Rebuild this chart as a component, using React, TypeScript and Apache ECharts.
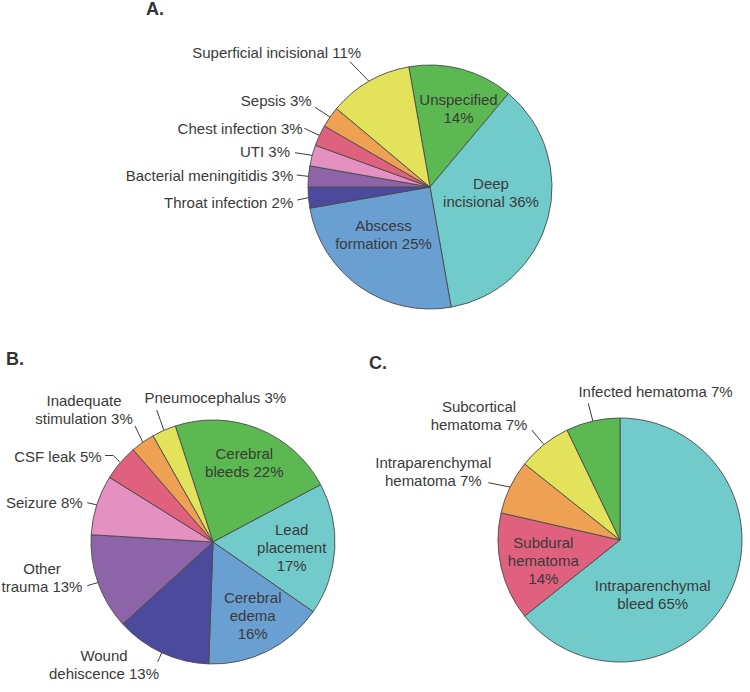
import React, { useEffect, useRef } from 'react';
import * as echarts from 'echarts';

// ---- Data (counts; displayed percentages as printed) ----
const namesA = ['Unspecified', 'Deep incisional', 'Abscess formation', 'Throat infection', 'Bacterial meningitidis', 'UTI', 'Chest infection', 'Sepsis', 'Superficial incisional'];
const valuesA = [5, 13, 9, 1, 1, 1, 1, 1, 4];
const pctA = [14, 36, 25, 2, 3, 3, 3, 3, 11];

const namesB = ['Cerebral bleeds', 'Lead placement', 'Cerebral edema', 'Wound dehiscence', 'Other trauma', 'Seizure', 'CSF leak', 'Inadequate stimulation', 'Pneumocephalus'];
const valuesB = [14, 11, 10, 8, 8, 5, 3, 2, 2];
const pctB = [22, 17, 16, 13, 13, 8, 5, 3, 3];

const namesC = ['Intraparenchymal bleed', 'Subdural hematoma', 'Intraparenchymal hematoma', 'Subcortical hematoma', 'Infected hematoma'];
const valuesC = [9, 2, 1, 1, 1];
const pctC = [65, 14, 7, 7, 7];

const panelTitles = ['A.', 'B.', 'C.'];

// ---- Styles ----
const GREEN = '#5cb850';
const CYAN = '#72cbcb';
const BLUE = '#6a9fd2';
const INDIGO = '#4b4a9d';
const PURPLE = '#8e64a8';
const PINK = '#e490c0';
const RED = '#df617e';
const ORANGE = '#eea152';
const YELLOW = '#e3e35b';

const colorsA = [GREEN, CYAN, BLUE, INDIGO, PURPLE, PINK, RED, ORANGE, YELLOW];
const colorsB = [GREEN, CYAN, BLUE, INDIGO, PURPLE, PINK, RED, ORANGE, YELLOW];
const colorsC = [CYAN, RED, ORANGE, YELLOW, GREEN];

type LabelSpec = {
  inside?: boolean;
  x: number;
  y: number;
  align?: 'left' | 'center' | 'right';
  br?: number[];
  end?: [number, number];
  bend?: [number, number];
};

const layoutA: LabelSpec[] = [
  { inside: true, x: 458.5, y: 108, br: [1] },
  { inside: true, x: 491, y: 192, br: [1] },
  { inside: true, x: 383.5, y: 234, br: [1] },
  { x: 293.3, y: 202, align: 'right', end: [297.3, 200] },
  { x: 293.3, y: 175.7, align: 'right', end: [296.7, 175] },
  { x: 290, y: 151, align: 'right', end: [295, 152.7] },
  { x: 302.7, y: 128.3, align: 'right', end: [304.3, 128.3] },
  { x: 311.7, y: 100.8, align: 'right', end: [315, 107.3] },
  { x: 276.7, y: 52.7, end: [350, 61.7] },
];

const layoutB: LabelSpec[] = [
  { inside: true, x: 244.3, y: 462.5, br: [1] },
  { inside: true, x: 291.7, y: 547.7, br: [1, 2] },
  { inside: true, x: 252.7, y: 615, br: [1, 2] },
  { x: 104, y: 664, br: [1], end: [157.7, 661.7] },
  { x: 42, y: 577.5, br: [1], end: [87.3, 585.7] },
  { x: 82.7, y: 502.7, align: 'right', end: [87.3, 502.7] },
  { x: 101.7, y: 456.7, align: 'right', end: [105, 455.5], bend: [113.3, 455.5] },
  { x: 84, y: 409.5, br: [1], end: [135, 426] },
  { x: 215.3, y: 397.7, end: [156.7, 410] },
];

const layoutC: LabelSpec[] = [
  { inside: true, x: 652.7, y: 594, br: [1] },
  { inside: true, x: 543.3, y: 560.8, br: [1, 2] },
  { x: 433.3, y: 471.7, br: [1], end: [488.3, 482.7] },
  { x: 479, y: 415.8, br: [1], end: [531.7, 430] },
  { x: 655.5, y: 391.7, end: [588.3, 403.3] },
];

const FONT = '"Liberation Sans", Arial, Helvetica, sans-serif';
const TEXT = '#3a3a3a';

function labelText(name: string, pct: number, br?: number[]): string {
  const words = (name + ' ' + pct + '%').split(' ');
  let out = '';
  words.forEach((w, i) => {
    if (i > 0) out += br && br.includes(i) ? '\n' : ' ';
    out += w;
  });
  return out;
}

function makePie(
  names: string[], values: number[], pcts: number[], colors: string[], layout: LabelSpec[],
  center: [number, number], radius: number, startAngle: number
) {
  const total = values.reduce((a, b) => a + b, 0);
  const edgePoint = (idx: number): [number, number] => {
    let before = 0;
    for (let i = 0; i < idx; i++) before += values[i];
    const mid = startAngle - ((before + values[idx] / 2) / total) * 360;
    const rad = (mid * Math.PI) / 180;
    return [center[0] + radius * Math.cos(rad), center[1] - radius * Math.sin(rad)];
  };
  return {
    type: 'pie',
    center,
    radius,
    startAngle,
    clockwise: true,
    avoidLabelOverlap: false,
    silent: true,
    emphasis: { disabled: true },
    itemStyle: { borderColor: '#4a4a4a', borderWidth: 0.9 },
    label: {
      color: TEXT,
      fontSize: 15,
      fontFamily: FONT,
      lineHeight: 18,
      align: 'center',
    },
    labelLine: { show: true, length: 10, length2: 0, lineStyle: { color: '#3a3a3a', width: 1 } },
    labelLayout: (params: any) => {
      const L = layout[params.dataIndex];
      const res: any = { x: L.x, y: L.y, align: L.align || 'center', verticalAlign: 'middle' };
      if (L.end) {
        const p0 = params.labelLinePoints && params.labelLinePoints[0]
          ? params.labelLinePoints[0]
          : edgePoint(params.dataIndex);
        const mid = L.bend ? L.bend : [(p0[0] + L.end[0]) / 2, (p0[1] + L.end[1]) / 2];
        res.labelLinePoints = [p0, mid, L.end];
      }
      return res;
    },
    data: names.map((n, i) => ({
      name: n,
      value: values[i],
      itemStyle: { color: colors[i] },
      label: {
        position: layout[i].inside ? 'inside' : 'outside',
        formatter: labelText(n, pcts[i], layout[i].br),
      },
      labelLine: { show: !layout[i].inside },
    })),
  };
}

export default function App() {
  const ref = useRef<HTMLDivElement>(null);
  useEffect(() => {
    document.body.style.margin = '0';
    if (!ref.current) return;
    const chart = echarts.init(ref.current, null, { renderer: 'svg' });
    const titleStyle = { fontSize: 18, fontWeight: 'bold' as const, color: '#333', fontFamily: FONT };
    chart.setOption({
      animation: false,
      backgroundColor: '#ffffff',
      title: [
        { text: panelTitles[0], left: 146, top: 0, padding: 0, textStyle: titleStyle },
        { text: panelTitles[1], left: 6, top: 350, padding: 0, textStyle: titleStyle },
        { text: panelTitles[2], left: 369, top: 354, padding: 0, textStyle: titleStyle },
      ],
      series: [
        makePie(namesA, valuesA, pctA, colorsA, layoutA, [430, 187], 122, 100),
        makePie(namesB, valuesB, pctB, colorsB, layoutB, [213, 542], 122, 108),
        makePie(namesC, valuesC, pctC, colorsC, layoutC, [620, 540], 122, 90),
      ],
    });
    return () => chart.dispose();
  }, []);
  return <div ref={ref} style={{ width: 750, height: 692 }} />;
}
